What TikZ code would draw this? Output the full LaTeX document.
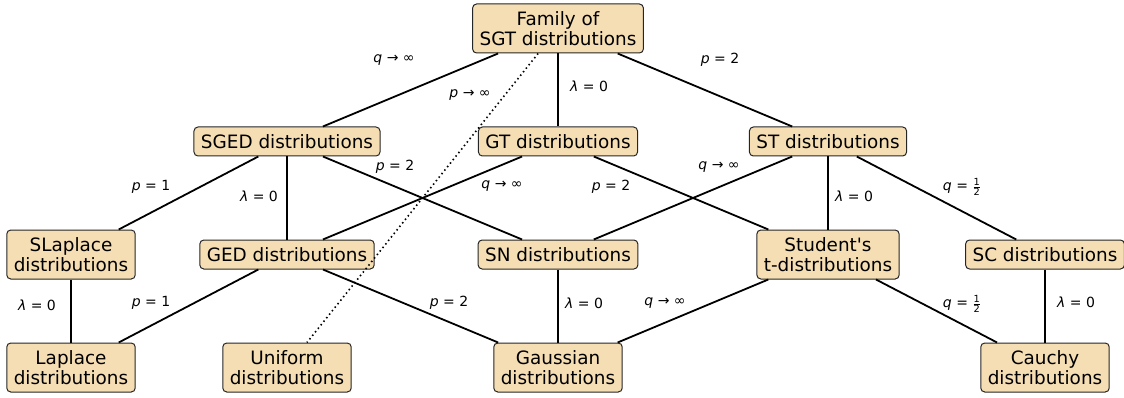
\documentclass[tikz,border=0pt]{standalone}
\usepackage{fontspec}
\usepackage{amsmath}
\setmainfont{DejaVu Sans}
\newfontfamily\dvs{DejaVu Sans}
\definecolor{wheat}{HTML}{F5DEB3}
\begin{document}
\begin{tikzpicture}[x=1pt,y=-1pt,
  box/.style={draw=black!85, line width=1pt, fill=wheat, rounded corners=4pt,
    inner xsep=7pt, inner ysep=0pt, align=center,
    font=\dvs\fontsize{18.4}{20.5}\selectfont, minimum height=29pt},
  boxtwo/.style={box, minimum height=49pt},
  link/.style={line width=1.8pt},
  dotlink/.style={line width=1.6pt, dash pattern=on 1.5pt off 3pt},
  lbl/.style={font=\dvs\fontsize{14}{16}\selectfont, inner sep=0pt}]
\useasboundingbox (0,0) rectangle (1124,398);

\node[boxtwo] (sgt) at (558,28.5) {Family of\\SGT distributions};
\node[box] (sged) at (287,141.5) {SGED distributions};
\node[box] (gt) at (558,141.5) {GT distributions};
\node[box] (st) at (828,141.5) {ST distributions};
\node[boxtwo] (slap) at (71,254.5) {SLaplace\\distributions};
\node[box] (ged) at (287,254.5) {GED distributions};
\node[box] (sn) at (558,254.5) {SN distributions};
\node[boxtwo] (stu) at (828,254.5) {Student's\\t-distributions};
\node[box] (sc) at (1045,254.5) {SC distributions};
\node[boxtwo] (lap) at (71,367.5) {Laplace\\distributions};
\node[boxtwo] (uni) at (287,367.5) {Uniform\\distributions};
\node[boxtwo] (gau) at (558,367.5) {Gaussian\\distributions};
\node[boxtwo] (cau) at (1045,367.5) {Cauchy\\distributions};

\draw[link] (sgt) -- (sged);
\draw[dotlink] (sgt) -- (uni);
\draw[link] (sgt) -- (gt);
\draw[link] (sgt) -- (st);
\draw[link] (sged) -- (slap);
\draw[link] (sged) -- (ged);
\draw[link] (sged) -- (sn);
\draw[link] (gt) -- (ged);
\draw[link] (gt) -- (stu);
\draw[link] (st) -- (sn);
\draw[link] (st) -- (stu);
\draw[link] (st) -- (sc);
\draw[link] (slap) -- (lap);
\draw[link] (ged) -- (lap);
\draw[link] (ged) -- (gau);
\draw[link] (sn) -- (gau);
\draw[link] (stu) -- (gau);
\draw[link] (stu) -- (cau);
\draw[link] (sc) -- (cau);

\node[lbl] (l1) at (394,60) {\textit{q} → ∞};
\node[lbl] (l2) at (470,95) {\textit{p} → ∞};
\node[lbl] (l3) at (589,86) {\textit{λ} = 0};
\node[lbl] (l4) at (720,60) {\textit{p} = 2};
\node[lbl] (l5) at (151,187) {\textit{p} = 1};
\node[lbl] (l6) at (259,196) {\textit{λ} = 0};
\node[lbl] (l7) at (395,167) {\textit{p} = 2};
\node[lbl] (l8) at (502,186) {\textit{q} → ∞};
\node[lbl] (l9) at (611,187) {\textit{p} = 2};
\node[lbl] (l10) at (719,167) {\textit{q} → ∞};
\node[lbl] (l11) at (854,196) {\textit{λ} = 0};
\node[lbl] (l12) at (962,187) {\textit{q} = $\frac{\text{1}}{\text{2}}$};
\node[lbl] (l13) at (37,305) {\textit{λ} = 0};
\node[lbl] (l14) at (151,303) {\textit{p} = 1};
\node[lbl] (l15) at (449,303) {\textit{p} = 2};
\node[lbl] (l16) at (584,303) {\textit{λ} = 0};
\node[lbl] (l17) at (665,303) {\textit{q} → ∞};
\node[lbl] (l18) at (962,304) {\textit{q} = $\frac{\text{1}}{\text{2}}$};
\node[lbl] (l19) at (1076,302) {\textit{λ} = 0};
\end{tikzpicture}
\end{document}
